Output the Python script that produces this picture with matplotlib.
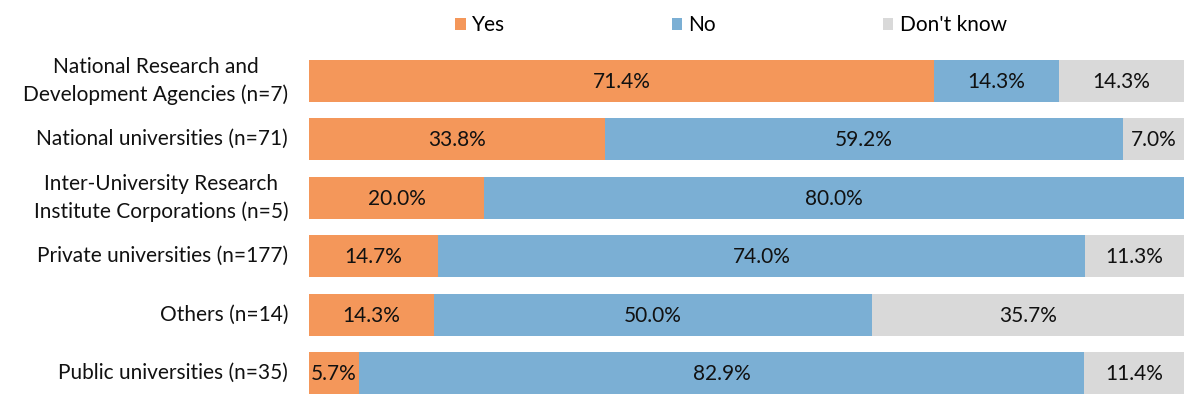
import matplotlib
matplotlib.use("Agg")
import matplotlib.pyplot as plt
import numpy as np

categories = [
    "National Research and\nDevelopment Agencies (n=7)",
    "National universities (n=71)",
    "Inter-University Research\nInstitute Corporations (n=5)",
    "Private universities (n=177)",
    "Others (n=14)",
    "Public universities (n=35)",
]
yes = [71.4, 33.8, 20.0, 14.7, 14.3, 5.7]
no = [14.3, 59.2, 80.0, 74.0, 50.0, 82.9]
dont_know = [14.3, 7.0, 0.0, 11.3, 35.7, 11.4]
series_names = ["Yes", "No", "Don't know"]
colors = ["#F4975A", "#7BAFD4", "#D9D9D9"]

plt.rcParams['font.family'] = ['Lato', 'DejaVu Sans']
FS = 15

fig = plt.figure(figsize=(12, 4.09), dpi=100)
ax = fig.add_axes([309/1200, 1-402.5/409, (1184-309)/1200, (402.5-51.5)/409])

y = np.arange(len(categories))
left = np.zeros(len(categories))
for vals, name, c in zip([yes, no, dont_know], series_names, colors):
    vals = np.array(vals)
    ax.barh(y, vals, left=left, height=0.72, color=c, label=name)
    for yi, l, v in zip(y, left, vals):
        if v > 0:
            ax.text(l + v/2, yi + 0.02, f"{v:.1f}%", ha='center', va='center', fontsize=FS, color='#111111')
    left = left + vals

ax.set_xlim(0, 100)
ax.set_ylim(len(categories)-0.5, -0.5)
ax.set_yticks(y)
ax.set_yticklabels(categories, fontsize=FS, ha='right', va='center', multialignment='center',
                   color='#111111', linespacing=1.45)
ax.tick_params(axis='y', length=0, pad=15)
ax.set_xticks([])
for s in ax.spines.values():
    s.set_visible(False)

fig.legend(loc='center', bbox_to_anchor=(731/1200, 1-25/409), ncol=3, frameon=False,
           fontsize=FS, handlelength=0.5, handleheight=0.5, handletextpad=0.3,
           columnspacing=8.0, borderpad=0)

fig.savefig("out.png", dpi=100)
